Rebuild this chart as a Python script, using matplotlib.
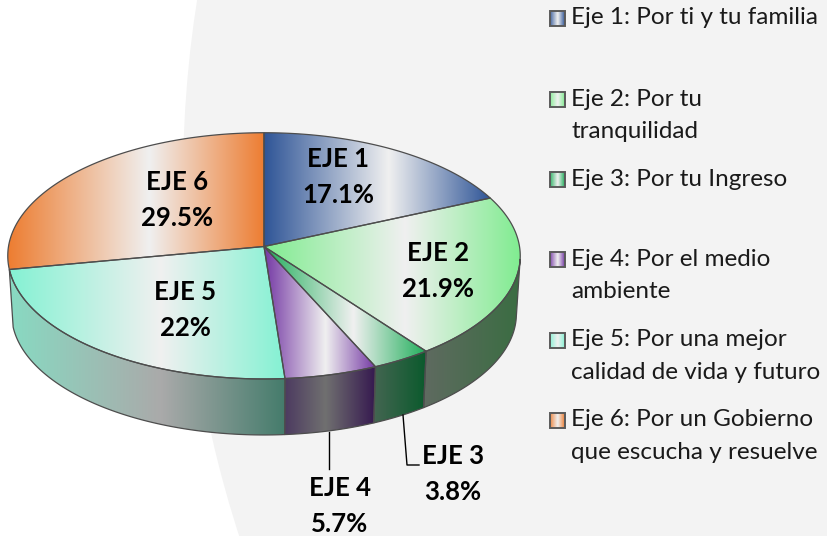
import numpy as np
import matplotlib
matplotlib.use('Agg')
import matplotlib.pyplot as plt
from matplotlib.colors import LinearSegmentedColormap
from matplotlib.patches import Circle, Polygon

names = ['EJE 1', 'EJE 2', 'EJE 3', 'EJE 4', 'EJE 5', 'EJE 6']
values = [17.1, 21.9, 3.8, 5.7, 22, 29.5]
legend_labels = [
    'Eje 1: Por ti y tu familia',
    'Eje 2: Por tu\ntranquilidad',
    'Eje 3: Por tu Ingreso',
    'Eje 4: Por el medio\nambiente',
    'Eje 5: Por una mejor\ncalidad de vida y futuro',
    'Eje 6: Por un Gobierno\nque escucha y resuelve',
]

top_colors = ['#2f5597', '#80ec90', '#1fae5a', '#7438a4', '#84f2d3', '#ed7d31']
side_colors = [
    ('#1c3359', '#6b6b6b', '#1c3359'),
    ('#2f6b3a', '#666a66', '#3a6d42'),
    ('#0b5a2e', '#5a6a60', '#0a5a2c'),
    ('#3a1f58', '#707070', '#35184f'),
    ('#88dac2', '#aaaaaa', '#457c6c'),
    ('#8c4a1d', '#777777', '#8c4a1d'),
]
label_pos = [(338, 159), (438, 253), (453, 456), (340, 488), (185, 292), (177, 182)]
legend_y = [18, 99, 179, 259, 340, 420]

CX, CY = 264, 246.5
RX = 255.5
RY = 122.4
PERSP = 0.0759
DEPTH = 58
SHRINK = 0.985
EDGE = '#4d4d4d'


def warp(theta):
    # the 3D pie is not quite a true circle, side angles get pushed round a bit
    return theta + np.radians(5.3 * np.sin(theta) ** 2 + np.sin(theta / 2) ** 2)


def rim(theta):
    t = warp(theta)
    u, v = np.sin(t), np.cos(t)
    w = 1 + PERSP * v
    return RX * u / w, -RY * v / w


def top_xy(theta):
    x, y = rim(theta)
    return np.column_stack([CX + x, CY + y])


def bottom_xy(theta):
    x, y = rim(theta)
    return np.column_stack([CX + SHRINK * x, CY + DEPTH + SHRINK * y])


def gradient(ax, poly_xy, bbox, colors, mid=0.55, lw=0.9, edge=EDGE):
    cmap = LinearSegmentedColormap.from_list('g', [(0, colors[0]), (mid, colors[1]), (1, colors[2])])
    poly = Polygon(poly_xy, closed=True, facecolor='none', edgecolor=edge, lw=lw, zorder=3)
    ax.add_patch(poly)
    img = ax.imshow(np.linspace(0, 1, 256).reshape(1, -1), cmap=cmap, aspect='auto',
                    extent=(bbox[0], bbox[1], bbox[3], bbox[2]), zorder=2, interpolation='bilinear')
    img.set_clip_path(poly)


fig = plt.figure(figsize=(8.27, 5.36), dpi=100, facecolor='white')
ax = fig.add_axes([0, 0, 1, 1])
ax.axis('off')

# grey backdrop, only a big circle's left edge is seen
ax.add_patch(Circle((183 + 1157, 180), 1157, facecolor='#f3f3f3', edgecolor='none', zorder=0))

fractions = np.cumsum([0] + values) / np.sum(values)
angles = 2 * np.pi * fractions

# outer walls first, only the front half shows. the orange wall barely shows so leave it out
for i in range(len(values) - 1):
    a0 = max(angles[i], np.pi / 2)
    a1 = min(angles[i + 1], 1.5 * np.pi)
    if a1 <= a0:
        continue
    arc = np.linspace(angles[i], angles[i + 1], 120)
    full = top_xy(arc)
    bbox = (min(full[:, 0].min(), CX), max(full[:, 0].max(), CX), 0, 536)
    t = np.linspace(a0, a1, 120)
    wall = np.vstack([top_xy(t), bottom_xy(t)[::-1]])
    gradient(ax, wall, bbox, side_colors[i])

for i in range(len(values)):
    arc = np.linspace(angles[i], angles[i + 1], 200)
    edge = top_xy(arc)
    poly = np.vstack([[CX, CY], edge])
    bbox = (min(edge[:, 0].min(), CX), max(edge[:, 0].max(), CX), 0, 536)
    gradient(ax, poly, bbox, (top_colors[i], '#f0f0f0', top_colors[i]))

label_font = dict(family='Lato', fontweight='bold', fontsize=18.5, color='black',
                  ha='center', va='center', zorder=6)
for i, name in enumerate(names):
    x, y = label_pos[i]
    ax.text(x, y, name, **label_font)
    ax.text(x, y + 36, f'{values[i]:g}%', **label_font)

# leader lines for the two small slices
ax.plot([329, 329], [432, 469], color='black', lw=1.0, zorder=5)
ax.plot([403, 407, 419], [415, 465, 465], color='black', lw=1.0, zorder=5)

for i, label in enumerate(legend_labels):
    y = legend_y[i]
    swatch = [(549.5, y - 7.5), (564.5, y - 7.5), (564.5, y + 7.5), (549.5, y + 7.5)]
    gradient(ax, swatch, (549, 565, y - 8, y + 8), (top_colors[i], '#f0f0f0', top_colors[i]),
             lw=1.4, edge='#5a5a5a')
    for j, line in enumerate(label.split('\n')):
        ax.text(571, y + j * 32.5, line, family='Lato', fontsize=17.5, color='#1a1a1a',
                ha='left', va='center', zorder=6)

ax.set_xlim(0, 827)
ax.set_ylim(536, 0)
fig.savefig('out.png', dpi=100)
